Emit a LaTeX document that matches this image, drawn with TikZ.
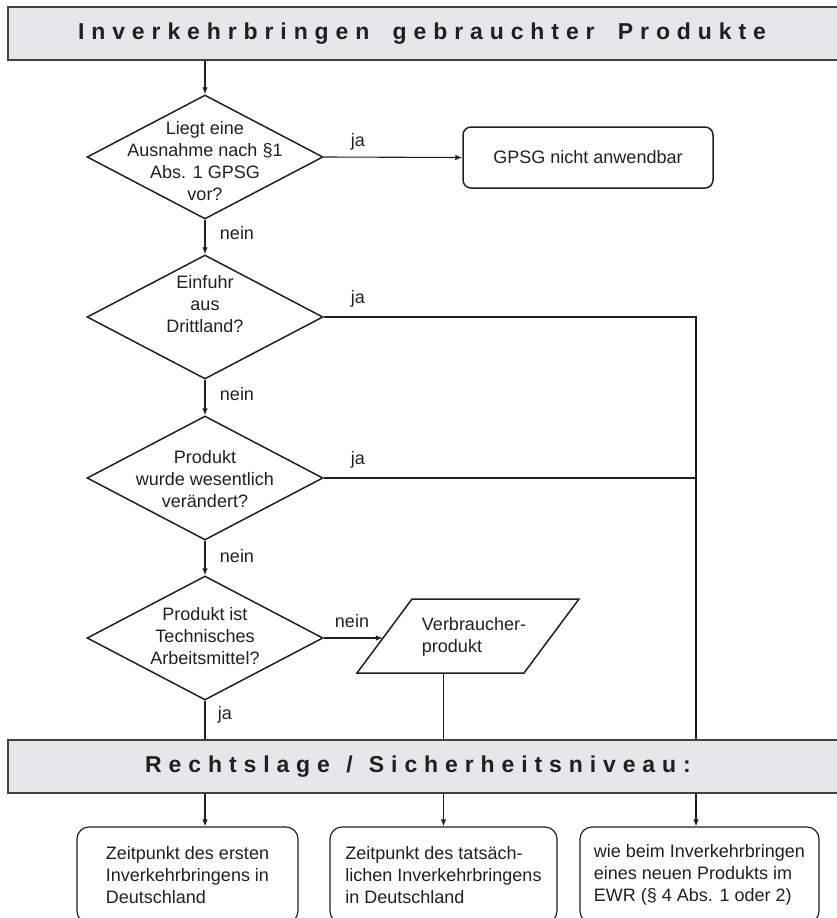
\documentclass[tikz,border=0pt]{standalone}
\usepackage{fontspec}
\setmainfont{Liberation Sans}
\newfontfamily\bannerfont[LetterSpace=30]{Liberation Sans}
\usetikzlibrary{shapes.geometric,arrows.meta,calc}
\definecolor{ink}{HTML}{231F20}
\definecolor{bannergray}{HTML}{E6E7E8}
\begin{document}
\begin{tikzpicture}[x=1pt,y=-1pt,
  every node/.style={text=ink, font=\fontsize{18}{21.8}\selectfont},
  conn/.style={draw=ink, line width=1.1pt},
  arr/.style={conn, -{Latex[length=7pt,width=5.5pt]}},
  dia/.style={draw=ink, line width=1.5pt, diamond, minimum width=236pt, minimum height=124pt, inner sep=0pt},
  banner/.style={draw=ink!85, fill=bannergray, line width=1.8pt, minimum height=53pt, minimum width=860pt, inner sep=0pt, anchor=west},
  bannertext/.style={font=\bannerfont\bfseries\fontsize{23}{27}\selectfont},
  dtext/.style={align=center, inner sep=0pt},
  lbl/.style={inner sep=0pt},
  endbox/.style={draw=ink, line width=1.5pt, rounded corners=8pt, minimum width=250pt, minimum height=61pt},
  outbox/.style={draw=ink, line width=1.2pt, rounded corners=12pt, minimum height=96pt, align=left, inner sep=0pt}
]
\useasboundingbox (0,0) rectangle (837,918);
\clip (0,0) rectangle (837,918);

% banners
\node[banner] (b1) at (7,33.5) {};
\node[bannertext] (t1) at (422,33.5) {Inverkehrbringen\hspace{10pt} gebrauchter\hspace{10pt} Produkte};
\node[banner] (b2) at (7,766.5) {};
\node[bannertext] (t2) at (418,766.5) {Rechtslage\hspace{3pt} /\hspace{3pt} Sicherheitsniveau:};

% decisions
\node[dia] (d1) at (205,157) {};
\node[dtext] (d1t) at (205,161) {Liegt eine\\Ausnahme nach §1\\Abs. 1 GPSG\\vor?};
\node[dia] (d2) at (205,317) {};
\node[dtext] (d2t) at (205,304) {Einfuhr\\aus\\Drittland?};
\node[dia] (d3) at (205,478) {};
\node[dtext] (d3t) at (205,479) {Produkt\\wurde wesentlich\\verändert?};
\node[dia] (d4) at (205,638) {};
\node[dtext] (d4t) at (205,636) {Produkt ist\\Technisches\\Arbeitsmittel?};

% end box
\node[endbox] (g1) at (588,157.5) {GPSG nicht anwendbar};

% parallelogram
\node[minimum width=170pt, minimum height=74pt, inner sep=0pt] (vb) at (468,636) {};
\draw[draw=ink, line width=1.5pt] ($(vb.center)+(-111,37)$) -- ($(vb.center)+(-56,-37)$) -- ($(vb.center)+(111,-37)$) -- ($(vb.center)+(56,37)$) -- cycle;
\node[align=left, inner sep=0pt] (vbt) at (474,637) {Verbraucher-\\produkt};

% right column coordinate
\coordinate (rcol) at (696,600);

% output boxes
\node[outbox, minimum width=221pt] (o1) at (187.5,875) {Zeitpunkt des ersten\\Inverkehrbringens in\\Deutschland};
\node[outbox, minimum width=227pt] (o2) at (443.5,875) {Zeitpunkt des tatsäch-\\lichen Inverkehrbringens\\in Deutschland};
\node[outbox, minimum width=239pt] (o3) at (699.5,875) {wie beim Inverkehrbringen\\eines neuen Produkts im\\EWR (§ 4 Abs. 1 oder 2)};

% connectors
\draw[arr] (d1 |- b1.south) -- (d1.north);
\draw[arr] (d1.east) -- (g1.west);
\draw[arr] (d1.south) -- (d2.north);
\draw[arr] (d2.south) -- (d3.north);
\draw[arr] (d3.south) -- (d4.north);
\draw[arr] (d4.east) -- (d4.east -| vb.west);
\draw[conn] (d4.south) -- (d4 |- b2.north);
\draw[conn] (d2.east) -- (d2.east -| rcol) -- (rcol |- b2.north);
\draw[conn] (d3.east) -- (d3.east -| rcol);
\draw[conn] (o2.north |- vb.south) -- (o2.north |- b2.north);
\draw[arr] (d4 |- b2.south) -- (d4 |- o1.north);
\draw[arr] (o2.north |- b2.south) -- (o2.north);
\draw[arr] (rcol |- b2.south) -- (rcol |- o3.north);

% labels
\node[lbl] (l1) at (358,142) {ja};
\node[lbl] (l2) at (237,233) {nein};
\node[lbl] (l3) at (358,299) {ja};
\node[lbl] (l4) at (237,394) {nein};
\node[lbl] (l5) at (358,460) {ja};
\node[lbl] (l6) at (237,556) {nein};
\node[lbl] (l7) at (352,621) {nein};
\node[lbl] (l8) at (225,715) {ja};
\end{tikzpicture}
\end{document}
